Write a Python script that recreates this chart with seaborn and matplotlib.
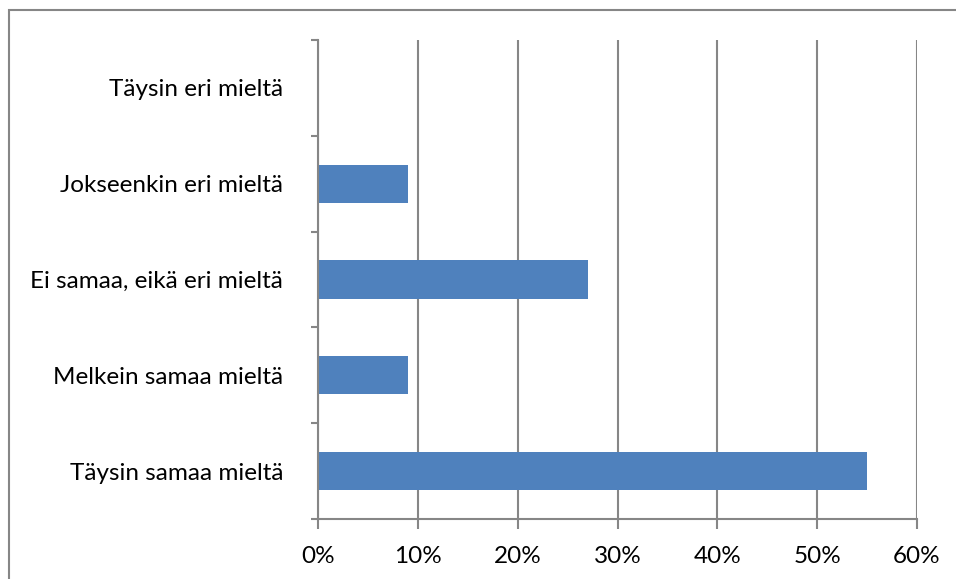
import matplotlib
matplotlib.use("Agg")
import matplotlib.pyplot as plt
import seaborn as sns
import pandas as pd
from matplotlib.patches import Rectangle
from matplotlib.ticker import FixedLocator, PercentFormatter

categories = [
    "Täysin eri mieltä",
    "Jokseenkin eri mieltä",
    "Ei samaa, eikä eri mieltä",
    "Melkein samaa mieltä",
    "Täysin samaa mieltä",
]
shares = [0, 9, 27, 9, 55]
x_ticks = [0, 10, 20, 30, 40, 50, 60]

df = pd.DataFrame({"vastaus": categories, "osuus": shares})

sns.set_theme(style="white")
plt.rcParams["font.family"] = ["Lato", "DejaVu Sans"]

grey = "#868686"
bar_color = "#4F81BD"

fig = plt.figure(figsize=(9.56, 5.79), dpi=100)
ax = fig.add_axes([318 / 956, 1 - 519 / 579, (917 - 318) / 956, (519 - 40) / 579])

sns.barplot(data=df, x="osuus", y="vastaus", order=categories, color=bar_color,
            saturation=1, width=0.4, orient="h", ax=ax, edgecolor="none")

ax.set_xlim(0, 60)
ax.set_ylim(len(categories) - 0.5, -0.5)
ax.set_xticks(x_ticks)
ax.xaxis.set_major_formatter(PercentFormatter(decimals=0))
ax.grid(axis="x", color=grey, linewidth=1.5)
ax.grid(axis="y", visible=False)
ax.set_axisbelow(True)
ax.set_xlabel("")
ax.set_ylabel("")

for side in ("top", "right"):
    ax.spines[side].set_visible(False)
for side in ("left", "bottom"):
    ax.spines[side].set_color(grey)
    ax.spines[side].set_linewidth(1.5)

ax.tick_params(axis="x", which="major", direction="out", length=7, width=1.5,
               color=grey, labelsize=17.5, labelcolor="black", pad=12.5, bottom=True)
ax.tick_params(axis="y", which="major", length=0, labelsize=17.5,
               labelcolor="black", pad=25)
ax.yaxis.set_minor_locator(FixedLocator([i - 0.5 for i in range(len(categories) + 1)]))
ax.tick_params(axis="y", which="minor", direction="out", length=5, width=1.5,
               color=grey, left=True)

# chart frame
fig.patches.append(Rectangle((9 / 956, -0.1), 1.2, 1 - 10 / 579 + 0.1,
                             transform=fig.transFigure, fill=False,
                             edgecolor=grey, linewidth=1.5, zorder=0))

fig.savefig("out.png", dpi=100)
